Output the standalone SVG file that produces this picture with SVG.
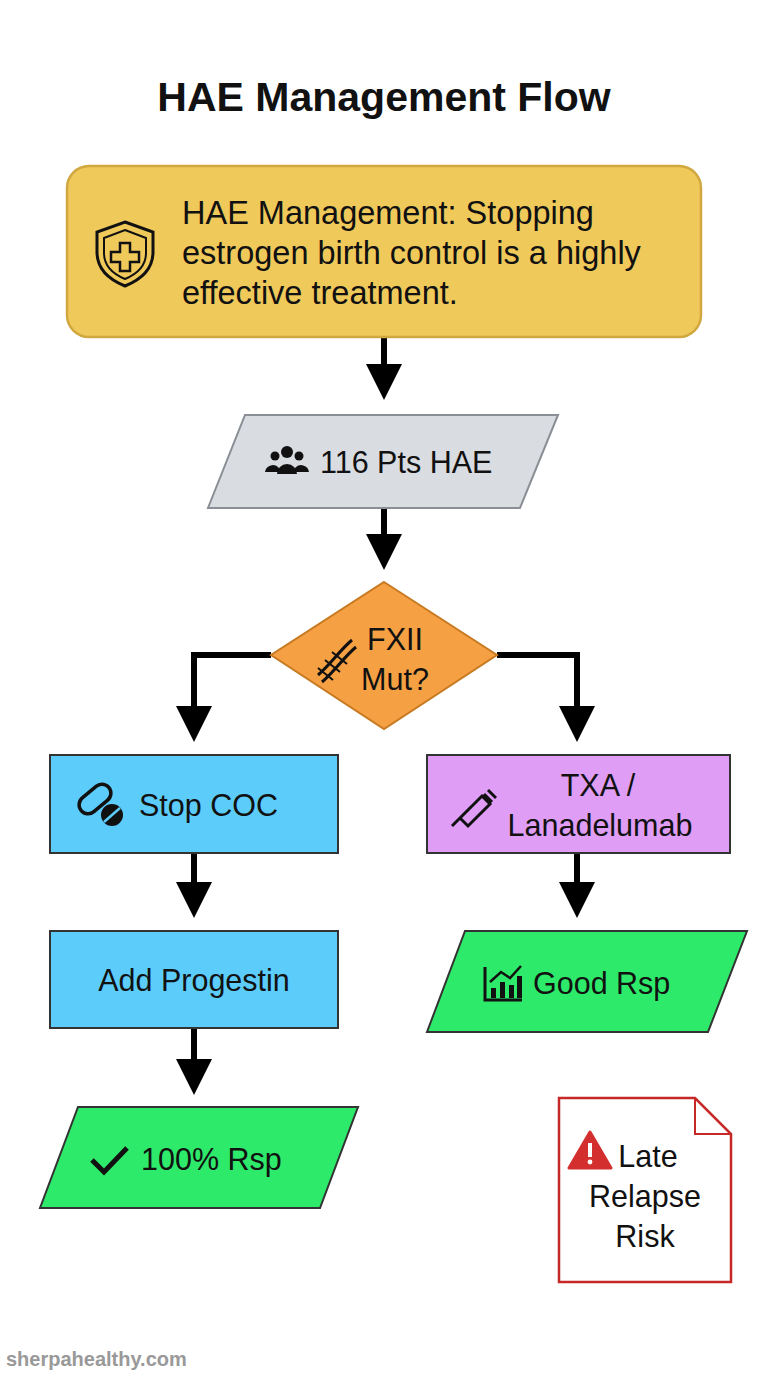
<svg xmlns="http://www.w3.org/2000/svg" width="768" height="1376" viewBox="0 0 768 1376">
<defs>
<style>
text{font-family:"Liberation Sans",Arial,sans-serif;fill:#111}
.t{font-size:30.5px}
.b{font-size:32.5px}
.c{stroke:#000;stroke-width:6;fill:none}
</style>
<marker id="ah" markerWidth="6" markerHeight="6" refX="4" refY="3" orient="auto" markerUnits="strokeWidth" viewBox="0 0 6 6"><path d="M0,0 L6,3 L0,6 z" fill="#000"/></marker>
</defs>
<rect width="768" height="1376" fill="#fff"/>
<text x="384" y="111" text-anchor="middle" font-size="41" font-weight="bold">HAE Management Flow</text>
<g id="connectors">
<path class="c" d="M384,337 V388" marker-end="url(#ah)"/>
<path class="c" d="M384,508 V558" marker-end="url(#ah)"/>
<path class="c" d="M271,655 H194 V730" marker-end="url(#ah)"/>
<path class="c" d="M497,655 H577 V730" marker-end="url(#ah)"/>
<path class="c" d="M194,853 V906" marker-end="url(#ah)"/>
<path class="c" d="M194,1028 V1083" marker-end="url(#ah)"/>
<path class="c" d="M577,853 V906" marker-end="url(#ah)"/>
</g>
<g id="n1">
<rect x="67" y="166" width="634" height="171" rx="22" fill="#f0c95b" stroke="#d1a840" stroke-width="2.5"/>
<path d="M125,222 L153,232 V252 C153,270 140,280 125,286 C110,280 97,270 97,252 V232 Z" fill="none" stroke="#111" stroke-width="3"/>
<path d="M125,230 L146,238 V253 C146,266 137,274 125,279 C113,274 104,266 104,253 V238 Z" fill="none" stroke="#111" stroke-width="2"/>
<path d="M120,243 h10 v9 h9 v10 h-9 v9 h-10 v-9 h-9 v-10 h9 z" fill="none" stroke="#111" stroke-width="2.5"/>
<text class="b" x="182" y="224">HAE Management: Stopping</text>
<text class="b" x="182" y="264">estrogen birth control is a highly</text>
<text class="b" x="182" y="304">effective treatment.</text>
</g>
<g id="n2">
<polygon points="245,415 558,415 520,508 208,508" fill="#d9dce1" stroke="#8a8f96" stroke-width="2"/>
<g fill="#111"><circle cx="287" cy="452" r="6"/><circle cx="275" cy="456" r="4.5"/><circle cx="299" cy="456" r="4.5"/>
<path d="M277,474 a10,10 0 0 1 20,0 z"/><path d="M265,472 a8,8 0 0 1 14,-4 v4 z"/><path d="M309,472 a8,8 0 0 0 -14,-4 v4 z"/></g>
<text class="t" x="320" y="473">116 Pts HAE</text>
</g>
<g id="n3">
<polygon points="384,582 497,655 384,729 271,655" fill="#f5a043" stroke="#c77a22" stroke-width="2"/>
<path d="M318,675 C330,665 340,650 352,640 M322,682 C334,672 344,657 356,647" stroke="#111" stroke-width="3" fill="none"/>
<path d="M325,660 L340,672 M332,652 L347,664 M318,668 L333,680" stroke="#111" stroke-width="2"/>
<text class="t" x="395" y="650" text-anchor="middle">FXII</text>
<text class="t" x="395" y="690" text-anchor="middle">Mut?</text>
</g>
<g id="n4">
<rect x="50" y="755" width="288" height="98" fill="#5ccdfb" stroke="#333" stroke-width="2"/>
<rect x="77" y="790" width="36" height="18" rx="9" transform="rotate(-40 95 799)" fill="none" stroke="#111" stroke-width="3.5"/>
<circle cx="112" cy="815" r="11" fill="#111"/>
<path d="M104,822 L120,808" stroke="#5ccdfb" stroke-width="2.5"/>
<text class="t" x="139" y="816">Stop COC</text>
</g>
<g id="n5">
<rect x="427" y="755" width="303" height="98" fill="#df9df5" stroke="#333" stroke-width="2"/>
<path d="M452,826 L462,816 M460,818 L482,796 L490,804 L468,826 Z M484,794 L492,802 M488,790 L496,798" stroke="#111" stroke-width="3" fill="none"/>
<text class="t" x="598" y="796" text-anchor="middle">TXA /</text>
<text class="t" x="600" y="836" text-anchor="middle">Lanadelumab</text>
</g>
<g id="n6">
<rect x="50" y="931" width="288" height="97" fill="#5ccdfb" stroke="#333" stroke-width="2"/>
<text class="t" x="194" y="991" text-anchor="middle">Add Progestin</text>
</g>
<g id="n7">
<polygon points="78,1107 358,1107 320,1208 40,1208" fill="#2eea6a" stroke="#333" stroke-width="2"/>
<path d="M92,1160 L104,1172 L127,1148" stroke="#111" stroke-width="5" fill="none"/>
<text class="t" x="141" y="1170">100% Rsp</text>
</g>
<g id="n8">
<polygon points="465,931 747,931 708,1032 427,1032" fill="#2eea6a" stroke="#333" stroke-width="2"/>
<path d="M485,967 V1000 H522" stroke="#111" stroke-width="3" fill="none"/>
<g fill="#111"><rect x="491" y="988" width="5" height="10"/><rect x="500" y="982" width="5" height="16"/><rect x="509" y="985" width="5" height="13"/><rect x="517" y="976" width="5" height="22"/></g>
<path d="M490,982 L501,972 L510,978 L521,966" stroke="#111" stroke-width="2.5" fill="none"/>
<text class="t" x="533" y="994">Good Rsp</text>
</g>
<g id="n9">
<path d="M559,1098 H695 L731,1134 V1282 H559 Z" fill="#fff" stroke="#c62828" stroke-width="2.5"/>
<path d="M695,1098 V1134 H731" fill="none" stroke="#c62828" stroke-width="2"/>
<path d="M590,1132 L611,1168 H569 Z" fill="#d32f2f" stroke="#d32f2f" stroke-width="3" stroke-linejoin="round"/>
<rect x="588" y="1143" width="4" height="14" fill="#fff"/><circle cx="590" cy="1162" r="2.4" fill="#fff"/>
<text class="t" x="648" y="1167" text-anchor="middle">Late</text>
<text class="t" x="645" y="1207" text-anchor="middle">Relapse</text>
<text class="t" x="645" y="1247" text-anchor="middle">Risk</text>
</g>
<text x="6" y="1366" font-size="20" font-weight="bold" style="fill:#999">sherpahealthy.com</text>
</svg>
